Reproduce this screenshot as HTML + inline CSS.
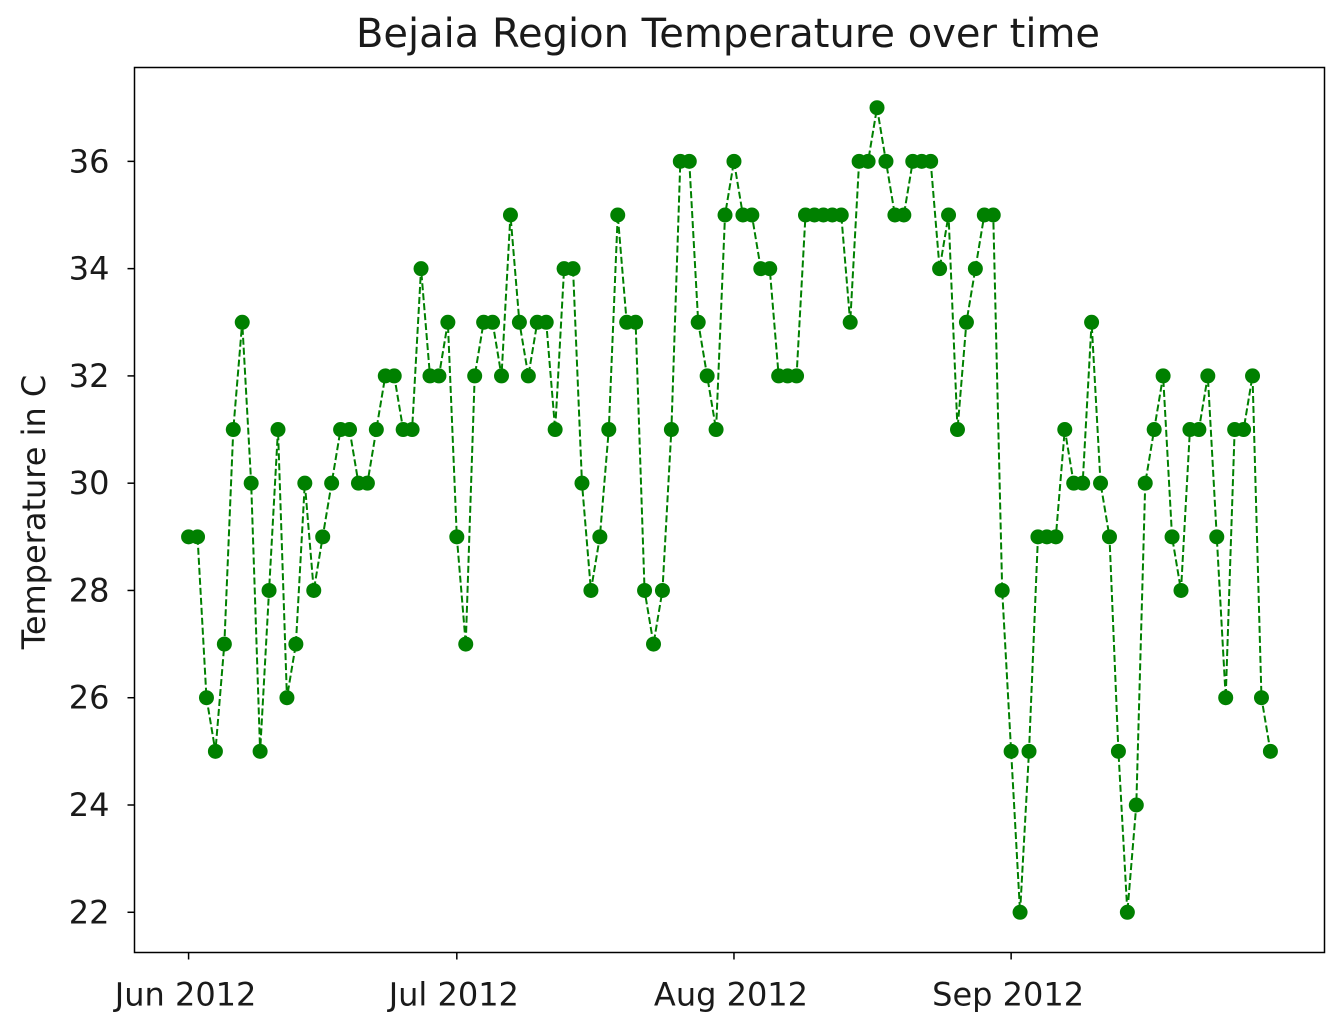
<!DOCTYPE html>
<html><head><meta charset="utf-8"><style>
html,body{margin:0;padding:0;background:#fff;}
svg{display:block;font-family:"DejaVu Sans","Liberation Sans",sans-serif;}
</style></head><body>
<svg id="chart" width="1334" height="1018" viewBox="0 0 1334 1018">
<rect x="0" y="0" width="1334" height="1018" fill="#fff"/>
<text x="728" y="47" text-anchor="middle" font-size="40" fill="#1a1a1a">Bejaia Region Temperature over time</text>
<text transform="translate(45,512) rotate(-90)" text-anchor="middle" font-size="32" fill="#1a1a1a">Temperature in C</text>
<g id="plot"></g>
<rect x="134.5" y="67.5" width="1190" height="885" fill="none" stroke="#000" stroke-width="1.5"/>
</svg>
<script>
const juneTemps = [29,29,26,25,27,31,33,30,25,28,31,26,27,30,28,29,30,31,31,30,30,31,32,32,31,31,34,32,32,33];
const julyTemps = [29,27,32,33,33,32,35,33,32,33,33,31,34,34,30,28,29,31,35,33,33,28,27,28,31,36,36,33,32,31,35];
const augustTemps = [36,35,35,34,34,32,32,32,35,35,35,35,35,33,36,36,37,36,35,35,36,36,36,34,35,31,33,34,35,35,28];
const septemberTemps = [25,22,25,29,29,29,31,30,30,33,30,29,25,22,24,30,31,32,29,28,31,31,32,29,26,31,31,32,26,25];
const yTickValues = [22,24,26,28,30,32,34,36];
const xTickLabels = ["Jun 2012","Jul 2012","Aug 2012","Sep 2012"];
const xTickDays = [0,30,61,92];

const temps = juneTemps.concat(julyTemps, augustTemps, septemberTemps);
const NS = "http://www.w3.org/2000/svg";
const L = 134.5, R = 1324.5, T = 67.5, B = 952.5;
const nDays = temps.length - 1;
const pad = nDays * 0.05;
const xMin = -pad, xMax = nDays + pad;
const yLo = Math.min(...temps), yHi = Math.max(...temps);
const yPad = (yHi - yLo) * 0.05;
const yMin = yLo - yPad, yMax = yHi + yPad;
function xScale(d){ return L + (d - xMin) / (xMax - xMin) * (R - L); }
function yScale(v){ return B - (v - yMin) / (yMax - yMin) * (B - T); }
const svg = document.getElementById('chart');
const plot = document.getElementById('plot');
function mk(tag, attrs, parent){
  const e = document.createElementNS(NS, tag);
  for (const k in attrs) e.setAttribute(k, attrs[k]);
  (parent || svg).appendChild(e);
  return e;
}
yTickValues.forEach(v => {
  const y = yScale(v);
  const t = mk('line', {x1: L - 7, x2: L, y1: y, y2: y, stroke: '#000', 'stroke-width': 1.5});
  
  
  const tx = mk('text', {x: L - 25, y: y + 11, 'text-anchor': 'end', 'font-size': 32, fill: '#1a1a1a'});
  tx.textContent = v;
  
  
});
xTickDays.forEach((d, i) => {
  const x = xScale(d);
  const t = mk('line', {x1: x, x2: x, y1: B, y2: B + 7, stroke: '#000', 'stroke-width': 1.5});
  
  
  const tx = mk('text', {x: x - 3, y: B + 53, 'text-anchor': 'middle', 'font-size': 32, fill: '#1a1a1a'});
  tx.textContent = xTickLabels[i];
  
  
});
const pts = temps.map((v, i) => xScale(i).toFixed(2) + ',' + yScale(v).toFixed(2)).join(' ');
const line = mk('polyline', {points: pts, fill: 'none', stroke: '#008000', 'stroke-width': 2, 'stroke-dasharray': '7,3'}, plot);


temps.forEach((v, i) => {
  const c = mk('circle', {cx: xScale(i), cy: yScale(v), r: 7.5, fill: '#008000'}, plot);
  
  
});
</script>
</body></html>
